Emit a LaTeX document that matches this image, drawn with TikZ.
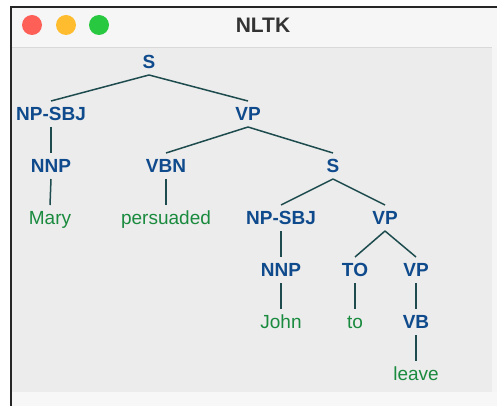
\documentclass[tikz,border=0pt]{standalone}
\usepackage{fontspec}
\setmainfont{Liberation Sans}
\definecolor{tagblue}{HTML}{0E4A8C}
\definecolor{wordgreen}{HTML}{198A3E}
\definecolor{edgeteal}{HTML}{1E4C4E}
\definecolor{panegray}{HTML}{ECECEC}
\definecolor{barwhite}{HTML}{F6F6F7}
\definecolor{lightred}{HTML}{FE5F57}
\definecolor{lightamber}{HTML}{FEBC2E}
\definecolor{lightgreen}{HTML}{28C840}
\tikzset{
  tag/.style={text=tagblue, font=\bfseries\fontsize{19}{19}\selectfont,
    text height=13.6pt, text depth=0pt, inner sep=6pt},
  word/.style={text=wordgreen, font=\fontsize{19}{19}\selectfont,
    text height=13.6pt, text depth=0pt, inner sep=6pt},
  branch/.style={draw=edgeteal, line width=1.5pt}
}

\begin{document}
\begin{tikzpicture}[x=1pt, y=-1pt]
  \useasboundingbox (0,0) rectangle (497,406);
  \fill[white] (0,0) rectangle (497,406);
  \fill[barwhite] (10,6) rectangle (497,48);
  \fill[panegray] (10,48) rectangle (492,392);
  \fill[black!3] (10,392) rectangle (497,406);
  \fill[black!4] (492,48) rectangle (497,392);
  \draw[black!15, line width=1pt] (10,48) -- (492,48);
  \draw[black!85, line width=1.8pt] (10.9,406) -- (10.9,6.9) -- (497,6.9);
  \fill[lightred] (32,25) circle (10);
  \fill[lightamber] (66,25) circle (10);
  \fill[lightgreen] (99,25) circle (10);
  \node[text=black!80, font=\bfseries\fontsize{21}{21}\selectfont] (title) at (263,25) {NLTK};

  \node[tag] (s) at (149,62) {S};
  \node[tag] (npsbj) at (51,114) {NP-SBJ};
  \node[tag] (vp) at (248,114) {VP};
  \node[tag] (nnp) at (51,166) {NNP};
  \node[tag] (vbn) at (166,166) {VBN};
  \node[tag] (s2) at (333,166) {S};
  \node[word] (mary) at (50,218) {Mary};
  \node[word] (persuaded) at (166,218) {persuaded};
  \node[tag] (npsbj2) at (281,218) {NP-SBJ};
  \node[tag] (vp2) at (385,218) {VP};
  \node[tag] (nnp2) at (281,270) {NNP};
  \node[tag] (to) at (355,270) {TO};
  \node[tag] (vp3) at (416,270) {VP};
  \node[word] (john) at (281,322) {John};
  \node[word] (towd) at (355,322) {to};
  \node[tag] (vb) at (416,322) {VB};
  \node[word] (leave) at (416,374) {leave};

  \draw[branch] (s.south) -- (npsbj.north);
  \draw[branch] (s.south) -- (vp.north);
  \draw[branch] (npsbj.south) -- (nnp.north);
  \draw[branch] (nnp.south) -- (mary.north);
  \draw[branch] (vp.south) -- (vbn.north);
  \draw[branch] (vp.south) -- (s2.north);
  \draw[branch] (vbn.south) -- (persuaded.north);
  \draw[branch] (s2.south) -- (npsbj2.north);
  \draw[branch] (s2.south) -- (vp2.north);
  \draw[branch] (npsbj2.south) -- (nnp2.north);
  \draw[branch] (nnp2.south) -- (john.north);
  \draw[branch] (vp2.south) -- (to.north);
  \draw[branch] (vp2.south) -- (vp3.north);
  \draw[branch] (to.south) -- (towd.north);
  \draw[branch] (vp3.south) -- (vb.north);
  \draw[branch] (vb.south) -- (leave.north);
\end{tikzpicture}
\end{document}
